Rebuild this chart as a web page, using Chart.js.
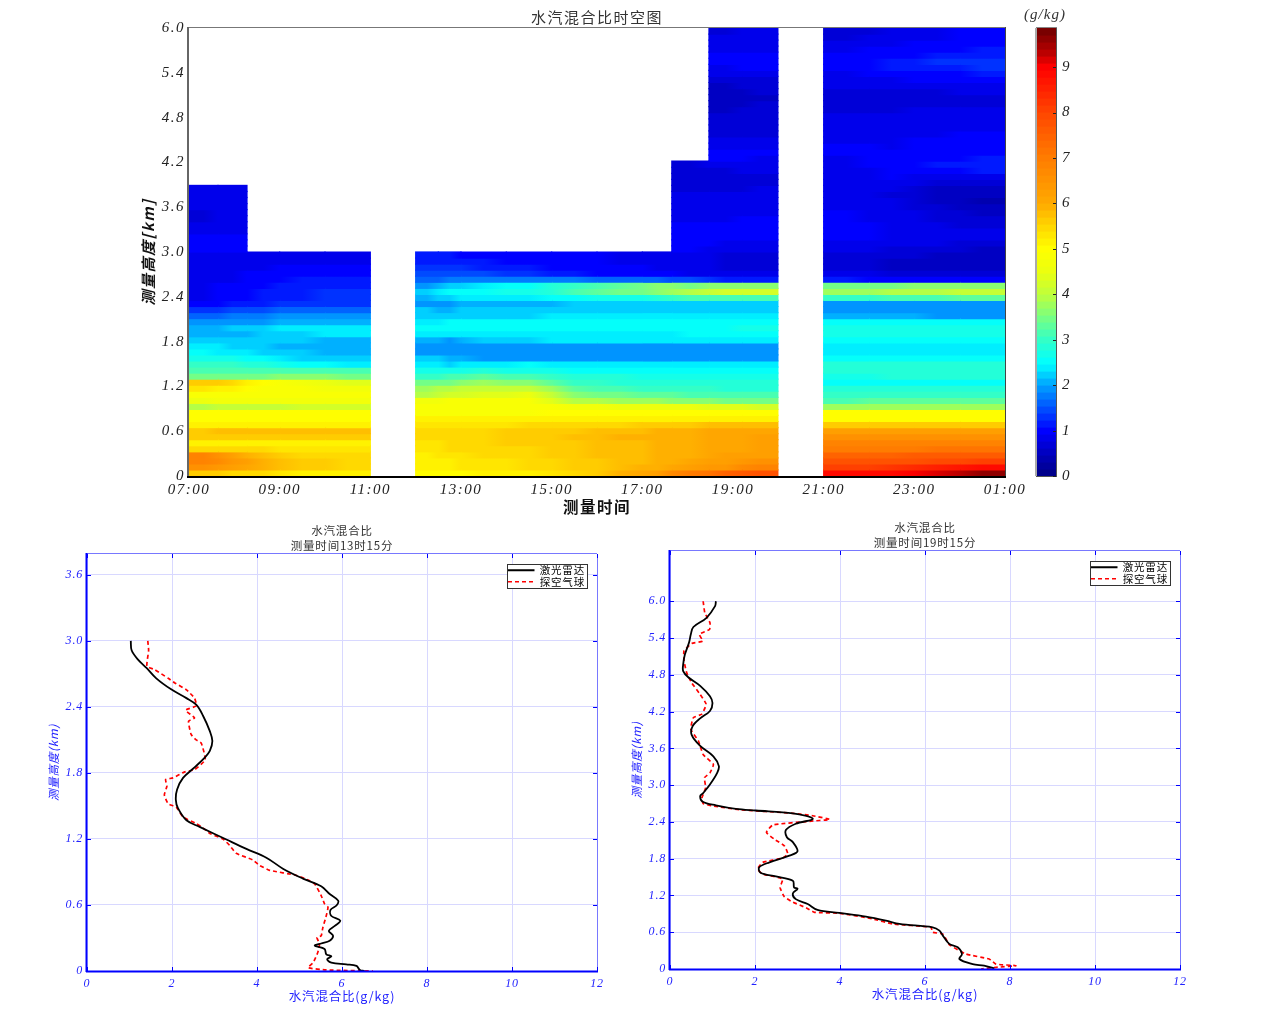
<!DOCTYPE html>
<html lang="zh"><head><meta charset="utf-8"><title>水汽混合比时空图</title>
<script src="https://cdn.jsdelivr.net/npm/chart.js@4/dist/chart.umd.js"></script>
<style>html,body{margin:0;padding:0;background:#fff;width:1269px;height:1030px;overflow:hidden}canvas{position:absolute;display:block}</style>
</head><body>
<canvas id="heat" width="1030" height="520" style="left:0;top:0"></canvas>
<canvas id="bar" width="259" height="520" style="left:1010px;top:0"></canvas>
<canvas id="left" width="620" height="510" style="left:0;top:520px"></canvas>
<canvas id="right" width="649" height="510" style="left:620px;top:520px"></canvas>
<script>
// ---------- data ----------
const timeTicks=[0,2,4,6,8,10,12,14,16,18];
const timeLabels=['07:00','09:00','11:00','13:00','15:00','17:00','19:00','21:00','23:00','01:00'];
const heightTicks=[0,.6,1.2,1.8,2.4,3,3.6,4.2,4.8,5.4,6];
const heightTickLabels=['0','0.6','1.2','1.8','2.4','3.0','3.6','4.2','4.8','5.4','6.0'];
const colorTicks=[0,1,2,3,4,5,6,7,8,9];
const rowStepKm=6/74;
// start and end of each time column, hours after 07:00
const colStart=[0,.64,1.279,2,3,5,5.5,6,7,8,9,10,10.65,11.47,12.2,14,15,16,17];
const colEnd=[.64,1.279,2,3,4,5.5,6,7,8,9,10,10.65,11.47,12.2,12.99,15,16,17,18];
const colA1=[5.6,6.6,6.9,6.8,5.4,5.1,5.6,5.7,5.1,5.0, 5.0,4.0,4.6,4.8,5.3,5.7,3.4,3.2,3.0,2.7, 2.5,2.4,2.2,2.1,2.1,1.9,1.6,1.3,1.0,.9, .9,.9,.9,.9,.9,.9,.9,1.0,1.0,1.0, .9,.8,.75,.75,.8,.85,.85,.9];
const colA2=[5.5,6.2,6.4,6.2,5.4,5.1,5.6,5.8,5.1,5.0, 5.0,4.1,4.7,4.8,5.1,5.4,3.5,3.2,3.0,2.7, 2.4,2.3,2.2,2.1,2.2,2.0,1.7,1.4,1.1,1.0, 1.0,.95,.9,.9,.9,.9,.9,.95,1.0,1.0, .9,.8,.8,.8,.85,.85,.9,.9];
const colA3=[5.4,5.9,6.0,5.8,5.4,5.1,5.6,5.8,5.1,5.0, 5.0,4.1,4.7,4.8,4.9,5.0,3.5,3.2,2.8,2.5, 2.3,2.2,2.2,2.2,2.3,2.0,1.8,1.5,1.2,1.1, 1.1,1.05,1.0,.95,.9,.85,.85];
const colA4=[5.2,5.6,5.7,5.5,5.3,5.1,5.6,5.8,5.1,5.0, 5.0,4.2,4.7,4.8,4.8,4.7,3.6,3.2,2.6,2.3, 2.2,2.1,2.2,2.3,2.4,2.1,1.9,1.6,1.3,1.2, 1.2,1.15,1.1,1.0,.95,.9,.85];
const colA5=[5.1,5.5,5.5,5.4,5.3,5.1,5.6,5.8,5.1,5.0, 5.0,4.2,4.7,4.8,4.7,4.4,3.5,3.1,2.4,2.2, 2.1,2.1,2.1,2.4,2.4,2.1,1.9,1.6,1.3,1.3, 1.3,1.2,1.1,1.0,.95,.9,.9];
const colB1=[5.0,5.1,5.1,5.2,5.3,5.3,5.4,5.4,5.3,5.1, 4.9,4.9,4.7,4.0,3.8,3.4,3.0,2.7,2.4,2.3, 2.0,1.9,2.1,2.4,2.5,2.4,2.2,2.2,2.0,2.1, 2.2,2.0,1.6,1.4,1.3,1.2,1.1];
const colB2=[5.0,5.2,5.2,5.3,5.4,5.4,5.5,5.5,5.3,5.1, 4.9,4.9,4.8,4.2,4.0,3.5,3.1,2.7,2.3,2.1, 2.0,1.9,2.0,2.4,2.5,2.5,2.2,2.1,2.0,2.3, 2.5,2.2,1.7,1.4,1.3,1.2,1.1];
const colB3=[5.1,5.3,5.3,5.4,5.4,5.5,5.5,5.5,5.3,5.1, 4.9,4.9,4.8,4.4,4.1,3.7,3.3,2.8,2.4,2.0, 1.9,1.9,2.3,2.4,2.6,2.6,2.3,2.3,2.1,2.4, 2.6,2.4,1.8,1.4,1.2,1.1,1.05];
const colB4=[5.2,5.4,5.4,5.5,5.5,5.6,5.6,5.6,5.4,5.1, 4.9,4.9,4.8,4.5,4.1,3.6,3.1,2.7,2.5,2.0, 2.0,1.9,2.3,2.4,2.6,2.6,2.3,2.2,2.1,2.4, 2.7,2.6,1.8,1.3,1.1,1.05,1.0];
const colB5=[5.4,5.6,5.6,5.7,5.7,5.7,5.8,5.7,5.5,5.1, 5.0,4.7,4.0,3.6,3.3,3.0,2.8,2.6,2.4,2.0, 2.0,2.0,2.4,2.4,2.6,2.6,2.4,2.2,2.2,2.6, 3.1,3.0,1.7,1.1,1.0,.95,.95];
const colB6=[5.9,5.8,5.8,5.8,5.8,5.8,5.9,5.8,5.5,5.1, 5.0,4.6,3.8,3.4,3.1,2.9,2.8,2.6,2.4,2.0, 2.0,2.0,2.4,2.4,2.6,2.6,2.4,2.2,2.2,2.7, 3.4,3.3,1.6,1.0,.95,.9,.9];
const colB7=[6.3,6.0,5.9,5.9,5.9,5.9,5.9,5.9,5.6,5.1, 5.0,4.6,3.7,3.3,3.0,2.9,2.7,2.6,2.4,2.0, 2.0,2.0,2.4,2.4,2.6,2.6,2.4,2.2,2.2,2.8, 3.6,3.6,1.6,.95,.9,.9,.9];
const colB8=[7.0,6.3,6.1,6.0,6.0,6.0,6.0,6.0,5.7,5.1, 5.0,4.5,3.6,3.2,3.0,2.8,2.7,2.6,2.4,2.0, 2.0,2.0,2.4,2.5,2.6,2.6,2.4,2.2,2.2,3.1, 4.0,3.5,1.4,.9,.8,.8,.8,.95,.95,.95, .95,.95,.9,.9,.85,.85,.8,.7,.65,.65,.7,.75];
const colB9=[7.4,6.4,6.3,6.2,6.1,6.1,6.1,6.1,5.8,5.1, 5.0,4.4,3.5,3.2,2.9,2.8,2.7,2.6,2.4,2.0, 2.0,2.0,2.4,2.5,2.6,2.6,2.4,2.2,2.2,3.2, 4.2,3.6,1.2,.85,.75,.75,.75,.85,.9,.95, .95,.95,.9,.9,.85,.85,.8,.7,.7,.7, .75,.85,.95,1.0,.85,.8,.75,.7,.65,.65, .6,.55,.55,.5,.6,.7,.8,.9,1.0,.95, .9,.85,.8,.75];
const colB10=[7.8,6.9,6.5,6.3,6.2,6.2,6.2,6.1,5.8,5.1, 5.0,4.3,3.5,3.1,2.9,2.8,2.7,2.6,2.4,2.0, 2.0,2.0,2.4,2.6,2.7,2.6,2.4,2.2,2.2,3.2, 4.2,3.6,1.1,.85,.75,.7,.7,.8,.9,.95, .95,.95,.95,.9,.9,.85,.85,.8,.75,.75, .8,.85,.9,.95,.9,.8,.75,.7,.7,.7, .65,.65,.6,.65,.7,.75,.85,.95,1.05,1.0, .9,.9,.85,.85];
const colC1=[8.8,8.1,7.8,7.5,7.0,6.8,6.5,6.2,5.7,5.0, 5.0,3.7,3.2,3.0,2.8,2.6,2.7,2.9,2.9,2.5, 2.4,2.4,2.6,2.7,2.7,2.6,2.1,2.0,2.0,3.0, 3.8,3.4,1.1,.8,.65,.65,.65,.8,.9,.95, .95,.95,.95,.95,.9,.9,.85,.8,.8,.8, .8,.85,.9,.95,.95,.9,.9,.9,.85,.8, .75,.7,.7,.75,.8,.85,.9,.95,1.0,.95, .9,.85,.75,.7];
const colC2=[8.9,8.2,7.8,7.5,7.0,6.8,6.5,6.2,5.6,5.0, 5.0,3.7,3.3,3.0,2.8,2.6,2.8,2.9,2.9,2.5, 2.4,2.4,2.6,2.7,2.7,2.6,2.1,2.0,2.0,3.1, 3.9,3.5,1.0,.75,.6,.6,.65,.75,.85,.9, .9,.9,.85,.85,.8,.8,.75,.8,.85,.95, 1.0,1.0,.95,.95,.9,.9,.9,.85,.85,.8, .75,.7,.7,.75,.85,.9,1.0,1.1,1.15,1.05, .95,.9,.8,.8];
const colC3=[9.1,8.5,7.9,7.6,7.1,6.8,6.5,6.2,5.6,5.0, 5.0,3.7,3.3,3.0,2.8,2.6,2.8,2.9,2.9,2.5, 2.4,2.4,2.6,2.7,2.7,2.6,2.0,1.9,1.9,3.2, 4.0,3.6,1.0,.7,.6,.55,.6,.7,.8,.85, .85,.8,.75,.7,.65,.6,.6,.6,.7,.85, 1.05,1.1,1.05,1.0,.95,.95,.9,.9,.85,.85, .8,.7,.7,.75,.85,.95,1.05,1.2,1.25,1.1, 1.0,.95,.9,.9];
const colC4=[9.6,8.8,8.1,7.7,7.2,6.8,6.5,6.2,5.6,5.0, 5.0,3.7,3.3,3.0,2.8,2.6,2.8,2.9,2.9,2.5, 2.4,2.4,2.6,2.7,2.7,2.6,2.0,1.9,1.9,3.3, 4.1,3.6,1.0,.7,.55,.5,.55,.6,.7,.8, .8,.7,.65,.55,.5,.45,.5,.55,.7,.85, 1.1,1.15,1.1,1.0,1.0,.95,.95,.9,.9,.9, .85,.75,.75,.8,.9,1.0,1.1,1.25,1.3,1.15, 1.1,1.05,1.0,1.0];
const heatColumns=[colA1,colA2,colA3,colA4,colA5,colB1,colB2,colB3,colB4,colB5,colB6,colB7,colB8,colB9,colB10,colC1,colC2,colC3,colC4];

const lidarLabel='激光雷达', sondeLabel='探空气球';
const mixTicks=[0,2,4,6,8,10,12];
const leftKmTicks=[0,.6,1.2,1.8,2.4,3,3.6];
const rightKmTicks=[0,.6,1.2,1.8,2.4,3,3.6,4.2,4.8,5.4,6];
const leftLidarKm=[3,2.915,2.83,2.755,2.66,2.56,2.48,2.42,2.32,2.18,2.09,2,1.94,1.85,1.755,1.65,1.555,1.48,1.37,1.31,1.195,1.11,1.03,.93,.84,.77,.7,.64,.595,.555,.5,.457,.41,.365,.32,.275,.25,.23,.2,.152,.134,.107,.076,.06,.046,.01,0];
const leftLidarMix=[1.03,1.05,1.2,1.4,1.63,1.98,2.34,2.57,2.73,2.89,2.95,2.89,2.77,2.53,2.26,2.12,2.09,2.14,2.34,2.65,3.28,3.75,4.22,4.61,5.08,5.51,5.71,5.91,5.87,5.73,5.75,5.96,5.83,5.69,5.79,5.71,5.51,5.36,5.59,5.63,5.75,5.65,5.75,6.1,6.34,6.42,6.53];
const leftSondeKm=[3,2.915,2.77,2.74,2.66,2.62,2.555,2.48,2.41,2.37,2.3,2.27,2.15,2.1,2.07,1.92,1.83,1.81,1.755,1.74,1.68,1.6,1.52,1.49,1.4,1.34,1.3,1.25,1.2,1.14,1.07,1.01,.96,.915,.87,.82,.79,.686,.61,.58,.488,.396,.32,.305,.244,.168,.076,.03,.01,0];
const leftSondeMix=[1.43,1.45,1.41,1.59,1.91,2.06,2.34,2.53,2.57,2.32,2.53,2.39,2.45,2.57,2.69,2.78,2.53,2.3,2.02,1.85,1.88,1.82,1.91,2.1,2.26,2.57,2.73,2.89,3.2,3.36,3.51,3.9,4.06,4.3,4.92,5.24,5.36,5.51,5.59,5.67,5.62,5.55,5.51,5.41,5.47,5.43,5.32,5.2,5.63,6.73];
const rightLidarKm=[6,5.92,5.73,5.58,5.46,5.33,5.13,4.97,4.86,4.76,4.62,4.45,4.34,4.21,4.09,3.96,3.82,3.64,3.47,3.31,3.2,3.01,2.87,2.82,2.73,2.67,2.613,2.586,2.54,2.45,2.37,2.27,2.15,2.07,1.92,1.85,1.74,1.66,1.57,1.51,1.44,1.33,1.31,1.23,1.14,1.06,.964,.915,.855,.79,.735,.68,.626,.544,.41,.354,.245,.163,.08,.054,.01];
const rightLidarMix=[1.08,1.06,.86,.55,.49,.45,.35,.31,.31,.43,.71,.94,1,.94,.71,.53,.51,.71,1.02,1.15,1.11,.94,.78,.71,.77,1.08,1.55,2.02,2.89,3.36,2.96,2.73,2.75,2.89,3,2.81,2.34,2.1,2.13,2.49,2.89,2.92,3,2.89,2.96,3.24,3.47,3.98,4.61,5.08,5.4,6.18,6.34,6.42,6.57,6.77,6.87,6.81,7.12,7.39,7.63];
const rightSondeKm=[6,5.81,5.65,5.54,5.46,5.35,5.31,5.19,5.03,4.84,4.67,4.48,4.32,4.16,4.1,3.91,3.72,3.5,3.34,3.2,3.12,2.96,2.79,2.7,2.66,2.6,2.54,2.5,2.44,2.41,2.35,2.23,2.12,2.01,1.88,1.81,1.74,1.63,1.55,1.47,1.33,1.18,1.09,1,.925,.91,.817,.735,.68,.6,.57,.4,.245,.163,.08,.054,.027,0];
const rightSondeMix=[.78,.82,.94,.93,.69,.77,.51,.33,.33,.39,.51,.71,.85,.75,.55,.49,.67,.78,1.02,.94,.81,.84,.75,.78,1.02,1.63,2.89,3.36,3.76,3.28,2.42,2.27,2.45,2.69,2.77,2.65,2.18,2.06,2.18,2.65,2.59,2.69,2.89,3.2,3.4,3.98,4.77,5.24,6.14,6.18,6.42,6.57,6.96,7.51,7.67,8.14,7.67,7.32];

// ---------- colour scale ----------
const colorMax=9.86, colorLevels=64;
const colorStops=[[0,0,0,130],[.5,0,0,190],[1,0,0,255],[1.5,0,80,255],[2,0,160,255],[2.4,0,240,255],[2.5,0,255,255],[3,50,255,200],[3.5,120,255,130],[4,190,255,60],[4.5,235,255,15],[5,255,255,0],[5.5,255,215,0],[6,255,170,0],[7,255,125,0],[8,255,70,0],[9,255,0,0],[9.3,190,0,0],[9.86,110,0,0]];
function colorOf(v){
  const st=colorMax/colorLevels, q=Math.min(colorLevels-1,Math.floor(v/st)), x=(q+.5)*st;
  let i=0; while(i<colorStops.length-2&&colorStops[i+1][0]<x)i++;
  const a=colorStops[i],b=colorStops[i+1],t=Math.min(1,(x-a[0])/(b[0]-a[0]));
  return 'rgb('+[1,2,3].map(k=>Math.round(a[k]+(b[k]-a[k])*t)).join(',')+')';
}
// cell fill: shaded across the column towards its neighbours, as the original's interpolated shading
function cellFill(c){
  if(c.dataIndex===undefined)return '#00f';
  const j=c.datasetIndex,i=c.dataIndex,v=heatColumns[j][i],sx=c.chart.scales.x;
  const p0=sx.getPixelForValue(colStart[j]),p1=sx.getPixelForValue(colEnd[j]);
  if(!Number.isFinite(p0)||!Number.isFinite(p1))return colorOf(v);
  const prev=(j>0&&colEnd[j-1]===colStart[j]&&heatColumns[j-1][i]!==undefined)?heatColumns[j-1][i]:v;
  const next=(j<heatColumns.length-1&&colStart[j+1]===colEnd[j]&&heatColumns[j+1][i]!==undefined)?heatColumns[j+1][i]:v;
  const g=c.chart.ctx.createLinearGradient(p0,0,p1,0);
  g.addColorStop(0,colorOf((prev+v)/2));g.addColorStop(.5,colorOf(v));g.addColorStop(1,colorOf((next+v)/2));
  return g;
}

// ---------- plugins ----------
const spacing={id:'spacing',beforeDraw(c,a,o){c.ctx.letterSpacing=(o.px||0)+'px';}};
function line(ctx,x1,y1,x2,y2,col,w){ctx.save();ctx.strokeStyle=col;ctx.lineWidth=w;ctx.setLineDash([]);ctx.beginPath();ctx.moveTo(x1,y1);ctx.lineTo(x2,y2);ctx.stroke();ctx.restore();}
const frame={id:'frame',afterDraw(c,a,o){
  const {left:l,right:r,top:t,bottom:b}=c.chartArea,x=c.ctx;
  if(o.kind==='heat'){
    line(x,l-1,t-.5,r+1,t-.5,'#777',1);line(x,l-1,t-1,l-1,b+1,'#666',2);line(x,r+.5,t-1,r+.5,b+1,'#444',1);line(x,l-2,b+1,r+1,b+1,'#000',2);
  }else if(o.kind==='bar'){
    line(x,l-1,t,l-1,b,'#aaa',2);line(x,r+.5,t,r+.5,b,'#555',1);line(x,l-1,b+.5,r+1,b+.5,'#555',1);line(x,l-1,t-.5,r+1,t-.5,'#888',1);
    c.scales.y.ticks.forEach(k=>{const p=Math.round(c.scales.y.getPixelForValue(k.value))+.5;line(x,r-3,p,r,p,'#222',1);});
  }else{
    const blue='#0000ff',thin='#7878ff';
    line(x,l,t-.5,r,t-.5,thin,1);line(x,r+.5,t,r+.5,b,thin,1);
    c.scales.x.ticks.forEach(k=>{const p=Math.round(c.scales.x.getPixelForValue(k.value))+.5;line(x,p,t,p,t+4,blue,1);line(x,p,b,p,b-4,blue,1);});
    c.scales.y.ticks.forEach(k=>{const p=Math.round(c.scales.y.getPixelForValue(k.value))+.5;line(x,l,p,l+4,p,blue,1);line(x,r,p,r-4,p,blue,1);});
    line(x,l-.5,t-1,l-.5,b+1,blue,2);line(x,l-1,b+.5,r+1,b+.5,blue,2);
  }
}};
const legendBox={id:'legendBox',afterLayout(c,a,o){
  const g=c.legend; if(!g||!o.w)return;
  Object.assign(g,{left:o.x,top:o.y,right:o.x+o.w,bottom:o.y+o.h,width:o.w,height:o.h});
  g.adjustHitBoxes();
  if(!g._boxed){const d=g.draw.bind(g);g.draw=function(){const x=c.ctx;x.save();x.fillStyle='#fff';x.fillRect(o.x+.5,o.y+.5,o.w,o.h);x.strokeStyle='#333';x.lineWidth=1;x.setLineDash([]);x.strokeRect(o.x+.5,o.y+.5,o.w,o.h);x.restore();d();};g._boxed=true;}
}};
const titleSpan={id:'titleSpan',afterLayout(c,a,o){if(o.right===undefined)return;const t=c.titleBlock;t.left=o.left;t.right=o.right;t.width=o.right-o.left;}};
Chart.register(spacing,frame,legendBox,titleSpan);
Chart.defaults.animation=false;
Chart.defaults.responsive=false;
Chart.defaults.events=[];
Chart.defaults.plugins.tooltip.enabled=false;

const SERIF='"Liberation Serif","Noto Sans CJK SC",serif';
const CJK='"Noto Sans CJK SC","Liberation Serif",sans-serif';
const fixW=w=>s=>{s.width=w;}, fixH=h=>s=>{s.height=h;};
const useTicks=arr=>s=>{s.ticks=arr.map(v=>({value:v}));};

// ---------- top heat map: each cell is one floating horizontal bar ----------
const heatDatasets=heatColumns.map((col,j)=>({
  data:col.map((v,i)=>({y:(i+.5)*rowStepKm,x:[colStart[j],colEnd[j]]})),
  backgroundColor:cellFill,
  borderWidth:0,inflateAmount:.6,grouped:false,categoryPercentage:1,barPercentage:1
}));
new Chart(document.getElementById('heat'),{type:'bar',data:{datasets:heatDatasets},options:{
  indexAxis:'y',
  layout:{padding:{left:139,right:25,top:8,bottom:0}},
  plugins:{legend:{display:false},spacing:{px:1.5},frame:{kind:'heat'},
    title:{display:true,text:'水汽混合比时空图',fullSize:false,color:'#333',font:{family:CJK,size:15,lineHeight:1.3,weight:'normal'},padding:{top:0,bottom:.5}}},
  scales:{
    x:{type:'linear',min:0,max:18,offset:false,grid:{display:false,drawTicks:false},border:{display:false},afterFit:fixH(44),afterBuildTicks:useTicks(timeTicks),
      ticks:{maxRotation:0,autoSkip:false,padding:5,color:'#222',font:{family:SERIF,size:15,style:'italic'},callback:(v,i)=>timeLabels[i]},
      title:{display:true,text:'测量时间',color:'#111',padding:{top:0,bottom:4},font:{family:CJK,size:15.5,weight:'bold',lineHeight:1.2}}},
    y:{type:'linear',min:0,max:6,offset:false,grid:{display:false,drawTicks:false},border:{display:false},afterFit:fixW(50),afterBuildTicks:useTicks(heightTicks),
      ticks:{autoSkip:false,padding:4,color:'#222',font:{family:SERIF,size:15,style:'italic'},callback:(v,i)=>heightTickLabels[i]},
      title:{display:true,text:'测量高度[km]',color:'#111',padding:{top:0,bottom:0},font:{family:CJK,size:15,style:'italic',weight:'bold',lineHeight:1.2}}}
  }}});

// ---------- colour bar ----------
const levelIndex=Array.from({length:colorLevels},(_,i)=>i);
new Chart(document.getElementById('bar'),{type:'bar',data:{datasets:[{
  data:levelIndex.map(i=>({y:(i+.5)*colorMax/colorLevels,x:[0,1]})),
  backgroundColor:levelIndex.map(i=>colorOf((i+.5)*colorMax/colorLevels)),
  borderWidth:0,inflateAmount:.6,categoryPercentage:1,barPercentage:1}]},options:{
  indexAxis:'y',
  layout:{padding:{left:27,right:0,top:6,bottom:44}},
  plugins:{legend:{display:false},spacing:{px:1},frame:{kind:'bar'},titleSpan:{left:5,right:65},
    title:{display:true,text:'(g/kg)',fullSize:false,color:'#333',font:{family:SERIF,size:15,style:'italic',weight:'normal',lineHeight:1.2},padding:{top:0,bottom:4}}},
  scales:{
    x:{type:'linear',min:0,max:1,display:false,offset:false},
    y:{type:'linear',position:'right',min:0,max:colorMax,offset:false,grid:{display:false,drawTicks:false},border:{display:false},afterFit:fixW(213),afterBuildTicks:useTicks(colorTicks),
      ticks:{padding:6,color:'#222',font:{family:SERIF,size:15,style:'italic'},callback:(v,i)=>String(colorTicks[i])}}
  }}});

// ---------- lower profile charts ----------
const zip=(xs,ys)=>xs.map((x,i)=>({x,y:ys[i]}));
function profile(id,cfg){
  new Chart(document.getElementById(id),{type:'scatter',data:{datasets:[
    {label:lidarLabel,data:zip(cfg.lidarMix,cfg.lidarKm),showLine:true,borderColor:'#000',backgroundColor:'#000',borderWidth:1.8,pointRadius:0,tension:.35},
    {label:sondeLabel,data:zip(cfg.sondeMix,cfg.sondeKm),showLine:true,borderColor:'#ff0000',backgroundColor:'#ff0000',borderWidth:1.7,borderDash:[4,3],pointRadius:0,tension:.15}
  ]},options:{
    layout:{padding:{left:cfg.padLeft,right:cfg.padRight,top:cfg.padTop,bottom:0}},
    plugins:{spacing:{px:.8},frame:{kind:'profile'},legendBox:cfg.legend,
      legend:{position:'chartArea',align:'start',labels:{boxWidth:26.5,boxHeight:0,padding:1,color:'#000',font:{family:CJK,size:10.5,lineHeight:1}}},
      title:{display:true,text:['水汽混合比',cfg.timeTitle],fullSize:false,color:'#333',font:{family:CJK,size:11.5,weight:'normal',lineHeight:1.3},padding:{top:0,bottom:.5}}},
    scales:{
      x:{type:'linear',min:0,max:12,grid:{color:'#d8d8ff',lineWidth:1,drawTicks:false},border:{display:false},afterFit:fixH(cfg.xHeight),afterBuildTicks:useTicks(mixTicks),
        ticks:{maxRotation:0,autoSkip:false,padding:6,color:'#2222ff',font:{family:SERIF,size:12,style:'italic'},callback:(v,i)=>String(mixTicks[i])},
        title:{display:true,text:'水汽混合比(g/kg)',color:'#2222ff',padding:{top:0,bottom:cfg.xTitleBottom},font:{family:CJK,size:12.5,lineHeight:1.2}}},
      y:{type:'linear',min:0,max:cfg.yMax,grid:{color:'#d8d8ff',lineWidth:1,drawTicks:false},border:{display:false},afterFit:fixW(40),afterBuildTicks:useTicks(cfg.kmTicks),
        ticks:{autoSkip:false,padding:4,color:'#2222ff',font:{family:SERIF,size:12,style:'italic'},callback:(v,i)=>{const t=cfg.kmTicks[i];return t===0?'0':t.toFixed(1);}},
        title:{display:true,text:'测量高度(km)',color:'#2222ff',padding:{top:0,bottom:0},font:{family:CJK,size:11.5,style:'italic',lineHeight:1.2}}}
    }}});
}
profile('left',{lidarMix:leftLidarMix,lidarKm:leftLidarKm,sondeMix:leftSondeMix,sondeKm:leftSondeKm,kmTicks:leftKmTicks,yMax:3.79,timeTitle:'测量时间13时15分',
  padLeft:47,padRight:23,padTop:3.6,xHeight:59,xTitleBottom:26,legend:{x:507,y:44,w:80,h:24}});
profile('right',{lidarMix:rightLidarMix,lidarKm:rightLidarKm,sondeMix:rightSondeMix,sondeKm:rightSondeKm,kmTicks:rightKmTicks,yMax:6.82,timeTitle:'测量时间19时15分',
  padLeft:10,padRight:89,padTop:.6,xHeight:61,xTitleBottom:28,legend:{x:470,y:41,w:80,h:24}});
</script>
</body></html>
